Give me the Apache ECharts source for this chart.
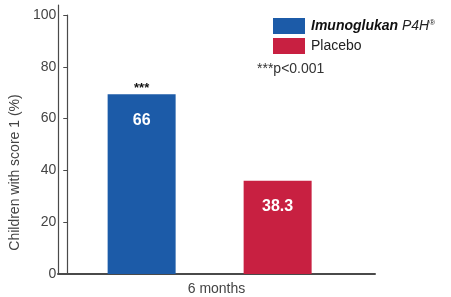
<!DOCTYPE html>
<html><head><meta charset="utf-8">
<script src="https://cdn.jsdelivr.net/npm/echarts@6/dist/echarts.min.js"></script>
<style>html,body{margin:0;padding:0;background:#fff}#c{width:451px;height:297px}</style>
</head><body><div id="c"></div>
<script>
const categories = ['6 months'];
const seriesNames = ['Imunoglukan P4H®', 'Placebo'];
const barHeights = [69.4, 36.0];      // drawn heights
const valueLabels = ['66', '38.3'];   // printed values
const sigMarks = ['***', ''];
const colors = ['#1c5ba8', '#c82041'];
const yTicks = [0, 20, 40, 60, 80, 100];
const yTitle = 'Children with score 1 (%)';
const noteText = '***p<0.001';

const FONT = '"Liberation Sans", Arial, sans-serif';
const chart = echarts.init(document.getElementById('c'), null, {renderer: 'canvas'});
const series = seriesNames.map((n, i) => ({
  name: n, type: 'bar', xAxisIndex: 0, yAxisIndex: 0,
  barWidth: 68, barGap: '100%',
  itemStyle: {color: colors[i]},
  data: categories.map(() => ({
    value: barHeights[i],
    label: {
      show: true, position: ['50%', -12], align: 'center', verticalAlign: 'top',
      formatter: '{s|' + (sigMarks[i] || ' ') + '}\n{v|' + valueLabels[i] + '}',
      rich: {
        s: {fontSize: 13, fontWeight: 'bold', color: '#111', lineHeight: 12, fontFamily: FONT},
        v: {fontSize: 16, fontWeight: 'bold', color: '#fff', lineHeight: 52, fontFamily: FONT}
      }
    }
  }))
}));

chart.setOption({
  animation: false,
  textStyle: {fontFamily: FONT},
  grid: [
    {left: 58, top: 15, width: 294, bottom: 23},
    {left: 58, top: 5, right: 76, bottom: 23}
  ],
  title: {text: noteText, left: 252, top: 57, textStyle: {fontSize: 14, fontWeight: 'normal', color: '#333', fontFamily: FONT}},
  legend: {
    orient: 'vertical', left: 268, top: 13, itemWidth: 32, itemHeight: 16, itemGap: 4,
    icon: 'rect', data: seriesNames,
    formatter: n => n === seriesNames[0] ? '{b|Imunoglukan} {i|P4H}{r|®}' : '{n|' + n + '}',
    textStyle: {
      fontSize: 14, color: '#222', fontFamily: FONT, padding: [0, 0, 0, 1],
      rich: {
        b: {fontSize: 14, fontWeight: 'bold', fontStyle: 'italic', color: '#111', fontFamily: FONT},
        i: {fontSize: 14, fontStyle: 'italic', color: '#222', fontFamily: FONT},
        r: {fontSize: 8, color: '#222', verticalAlign: 'top', padding: [0, 0, 6, 0], fontFamily: FONT},
        n: {fontSize: 14, color: '#222', fontFamily: FONT}
      }
    }
  },
  xAxis: [
    {type: 'category', gridIndex: 0, data: categories, axisLine: {show: false}, axisTick: {show: false}, axisLabel: {show: false}},
    {type: 'category', gridIndex: 1, data: categories, axisLine: {show: true, lineStyle: {color: '#4a4a4a', width: 2}},
     axisTick: {show: false}, axisLabel: {fontSize: 14, color: '#444', margin: 8, fontFamily: FONT}}
  ],
  yAxis: [
    {type: 'value', gridIndex: 0, min: yTicks[0], max: yTicks[yTicks.length - 1], interval: yTicks[1] - yTicks[0],
     axisLine: {show: true, lineStyle: {color: '#4a4a4a', width: 1.2}},
     axisTick: {show: true, length: 4, lineStyle: {color: '#4a4a4a'}},
     splitLine: {show: false},
     axisLabel: {fontSize: 14, color: '#444', margin: 11, fontFamily: FONT},
     name: yTitle, nameLocation: 'middle', nameGap: 36, nameRotate: 90,
     nameTextStyle: {fontSize: 14, color: '#444', padding: [0, 56, 0, 0], fontFamily: FONT}},
    {type: 'value', gridIndex: 1, min: 0, max: 1, axisLine: {show: true, lineStyle: {color: '#4a4a4a', width: 1.2}},
     axisTick: {show: false}, axisLabel: {show: false}, splitLine: {show: false}}
  ],
  series: series
});
</script></body></html>
